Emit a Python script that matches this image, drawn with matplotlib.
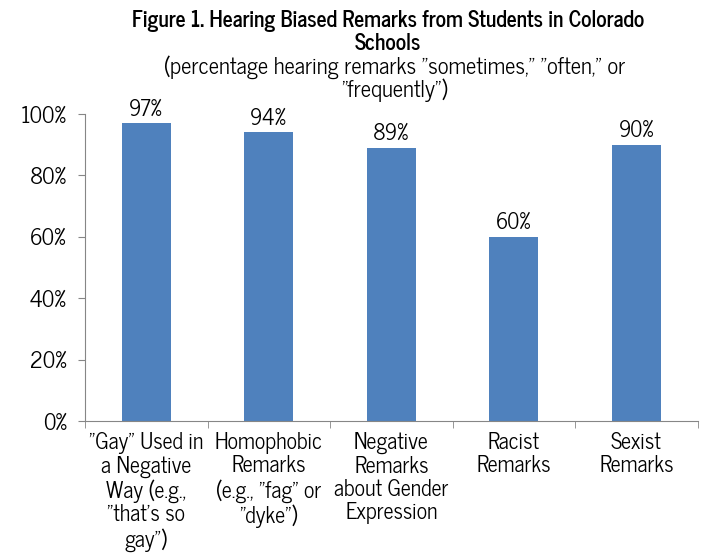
import numpy as np
import matplotlib.pyplot as plt
from matplotlib.ticker import FuncFormatter

categories = ['"Gay" Used in\na Negative\nWay (e.g.,\n"that\'s so\ngay")',
              'Homophobic\nRemarks\n(e.g., "fag" or\n"dyke")',
              'Negative\nRemarks\nabout Gender\nExpression',
              'Racist\nRemarks',
              'Sexist\nRemarks']
values = [97, 94, 89, 60, 90]

plt.rcParams['font.family'] = ['News Cycle', 'Roboto Condensed', 'DejaVu Sans']

fig = plt.figure(figsize=(7.04, 5.53), dpi=100)
ax = fig.add_axes([0.1207, 0.2387, 0.8703, 0.5552])

x = np.arange(len(values))
ax.bar(x, values, width=0.4, color='#4F81BD')
for xi, v in zip(x, values):
    ax.text(xi, v + 0.8, '%d%%' % v, ha='center', va='bottom', fontsize=15.5)

ax.set_xlim(-0.5, len(values) - 0.5)
ax.set_ylim(0, 100)
ax.set_yticks(np.arange(0, 101, 20))
ax.yaxis.set_major_formatter(FuncFormatter(lambda v, p: '%d%%' % v))
ax.set_xticks(x)
ax.set_xticklabels(categories, fontsize=15.8, linespacing=1.08)
ax.set_xticks(np.arange(-0.5, len(values)), minor=True)
ax.tick_params(axis='x', which='major', length=0, pad=8)
ax.tick_params(axis='x', which='minor', length=5, color='#868686')
ax.tick_params(axis='y', labelsize=16, length=5, pad=8, color='#868686')

for s in ['top', 'right']:
    ax.spines[s].set_visible(False)
for s in ['left', 'bottom']:
    ax.spines[s].set_color('#868686')

fig.text(0.551, 0.962, 'Figure 1. Hearing Biased Remarks from Students in Colorado',
         ha='center', va='center', fontsize=15.6, fontweight='bold')
fig.text(0.551, 0.92, 'Schools', ha='center', va='center', fontsize=15.6, fontweight='bold')
fig.text(0.56, 0.879, '(percentage hearing remarks "sometimes," "often," or',
         ha='center', va='center', fontsize=16.3)
fig.text(0.56, 0.837, '"frequently")', ha='center', va='center', fontsize=16.3)

plt.savefig('out.png', dpi=100)
